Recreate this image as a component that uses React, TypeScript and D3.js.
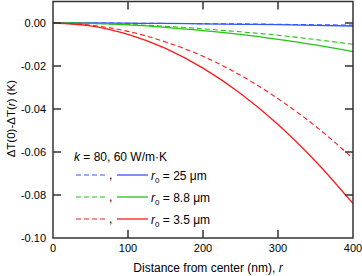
import * as d3 from "d3";

// distance from center (nm)
const radii = [0, 50, 100, 150, 200, 250, 300, 350, 400];

// ΔT(0)-ΔT(r) (K)
const blueDashed = [0, 0, -0.0001, -0.0002, -0.0003, -0.0004, -0.0006, -0.0008, -0.001];
const blueSolid = [0, 0, -0.0001, -0.0002, -0.0004, -0.0006, -0.0008, -0.0011, -0.0014];
const greenDashed = [0, -0.0002, -0.0007, -0.0015, -0.0027, -0.0041, -0.0057, -0.0077, -0.0099];
const greenSolid = [0, -0.0002, -0.0009, -0.002, -0.0035, -0.0053, -0.0076, -0.0102, -0.0133];
const redDashed = [0, -0.001, -0.0039, -0.0088, -0.0155, -0.0243, -0.0352, -0.048, -0.063];
const redSolid = [0, -0.0013, -0.0053, -0.0118, -0.021, -0.0328, -0.0472, -0.0643, -0.084];

const xTicks = [0, 100, 200, 300, 400];
const yTicks = [0, -0.02, -0.04, -0.06, -0.08, -0.1];

const legendRows = [
  { color: "#3355ff", label: "25" },
  { color: "#22c411", label: "8.8" },
  { color: "#ff1a1a", label: "3.5" },
];

const series = [
  { values: blueDashed, color: "#3355ff", dashed: true },
  { values: blueSolid, color: "#3355ff", dashed: false },
  { values: greenDashed, color: "#22c411", dashed: true },
  { values: greenSolid, color: "#22c411", dashed: false },
  { values: redDashed, color: "#ff1a1a", dashed: true },
  { values: redSolid, color: "#ff1a1a", dashed: false },
];

const W = 362;
const H = 276;
const left = 53;
const right = 353;
const top = 1.5;
const bottom = 238;
const font = "'Liberation Sans', Arial, sans-serif";
const axisColor = "#333";

export default function App() {
  const x = d3.scaleLinear().domain([0, 400]).range([left, right]);
  const y = d3.scaleLinear().domain([-0.1, 0.01]).range([bottom, top]);

  const line = d3
    .line<number>()
    .x((_, i) => x(radii[i]))
    .y((d) => y(d))
    .curve(d3.curveMonotoneX);

  const tick = 8;

  return (
    <svg
      width={W}
      height={H}
      viewBox={`0 0 ${W} ${H}`}
      style={{ position: "absolute", left: 0, top: 0 }}
      fontFamily={font}
    >
      <rect width={W} height={H} fill="#fff" />
      <defs>
        <clipPath id="plot">
          <rect x={left} y={top} width={right - left} height={bottom - top} />
        </clipPath>
      </defs>

      {/* curves */}
      <g clipPath="url(#plot)">
        {series.map((s, i) => (
          <path
            key={i}
            d={line(s.values) ?? ""}
            fill="none"
            stroke={s.color}
            strokeWidth={s.dashed ? 1.1 : 1.3}
            strokeDasharray={s.dashed ? "5,3" : undefined}
          />
        ))}
      </g>

      {/* frame */}
      <rect
        x={left}
        y={top}
        width={right - left}
        height={bottom - top}
        fill="none"
        stroke={axisColor}
        strokeWidth={1.5}
      />

      {/* x ticks */}
      {xTicks.map((t) => (
        <g key={t}>
          {t > 0 && t < 400 && (
            <>
              <line x1={x(t)} x2={x(t)} y1={bottom} y2={bottom - tick} stroke={axisColor} strokeWidth={1.5} />
              <line x1={x(t)} x2={x(t)} y1={top} y2={top + tick} stroke={axisColor} strokeWidth={1.5} />
            </>
          )}
          <text x={x(t)} y={252} fontSize={11} textAnchor="middle" fill="#000">
            {t}
          </text>
        </g>
      ))}

      {/* y ticks */}
      {yTicks.map((t) => (
        <g key={t}>
          {t > -0.1 && (
            <>
              <line x1={left} x2={left + tick} y1={y(t)} y2={y(t)} stroke={axisColor} strokeWidth={1.5} />
              <line x1={right} x2={right - tick} y1={y(t)} y2={y(t)} stroke={axisColor} strokeWidth={1.5} />
            </>
          )}
          <text x={46} y={y(t) + 4} fontSize={11} textAnchor="end" fill="#000">
            {t === 0 ? "0.00" : d3.format(".2f")(t).replace("−", "-")}
          </text>
        </g>
      ))}

      {/* axis titles */}
      <text x={208} y={272} fontSize={12} textAnchor="middle" fill="#000">
        Distance from center (nm), <tspan fontStyle="italic">r</tspan>
      </text>
      <text
        transform={`translate(15,${y(-0.0445)}) rotate(-90)`}
        fontSize={11.5}
        textAnchor="middle"
        fill="#000"
      >
        ΔT(0)-ΔT(<tspan fontStyle="italic">r</tspan>) (K)
      </text>

      {/* legend */}
      <text x={74} y={161} fontSize={12} fill="#000">
        <tspan fontStyle="italic">k</tspan> = 80, 60 W/m·K
      </text>
      {legendRows.map((r, i) => {
        const ly = 175 + i * 22;
        return (
          <g key={r.label}>
            <line x1={76} x2={107} y1={ly} y2={ly} stroke={r.color} strokeWidth={1.1} strokeDasharray="5,3" />
            <text x={109} y={ly + 4} fontSize={12} fill="#000">,</text>
            <line x1={117} x2={148} y1={ly} y2={ly} stroke={r.color} strokeWidth={1.3} />
            <text x={151} y={ly + 4.5} fontSize={12} fill="#000">
              <tspan fontStyle="italic">r</tspan>
              <tspan fontSize={8} dy={3}>0</tspan>
              <tspan dy={-3}> = {r.label} μm</tspan>
            </text>
          </g>
        );
      })}
    </svg>
  );
}
